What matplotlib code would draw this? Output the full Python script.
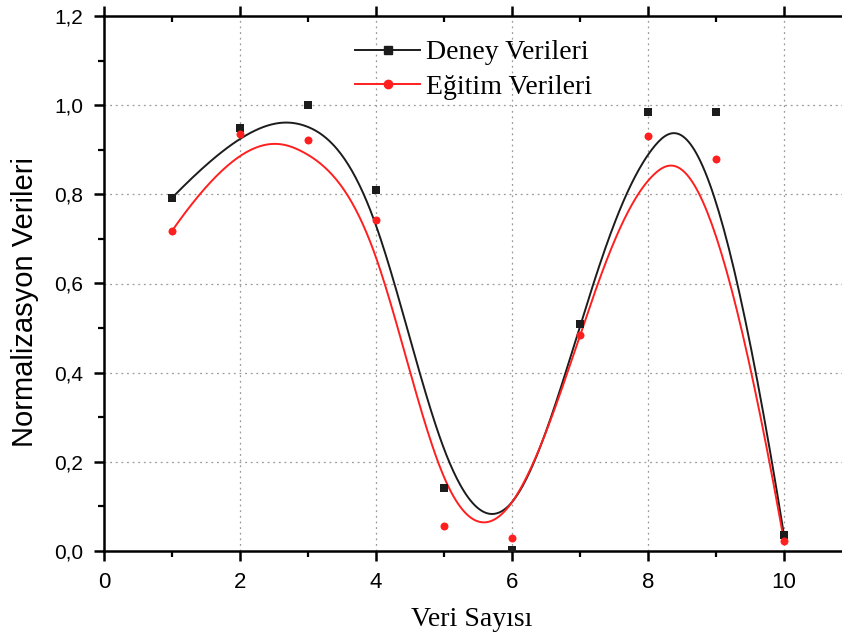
import numpy as np
import matplotlib
matplotlib.use("Agg")
import matplotlib.pyplot as plt
from matplotlib.lines import Line2D
from matplotlib.ticker import MultipleLocator, FuncFormatter

# Data
veri_sayisi = [1, 2, 3, 4, 5, 6, 7, 8, 9, 10]
deney_verileri = [0.792, 0.949, 1.000, 0.810, 0.141, 0.002, 0.509, 0.985, 0.985, 0.036]
egitim_verileri = [0.718, 0.936, 0.922, 0.743, 0.056, 0.029, 0.485, 0.931, 0.880, 0.022]

label_deney = "Deney Verileri"
label_egitim = "Eğitim Verileri"


def bspline_curve(xs, ys, degree=3, samples=400):
    """Clamped uniform B-spline using the points as control points."""
    P = np.column_stack([xs, ys]).astype(float)
    n = len(P)
    k = degree
    inner = np.arange(1, n - k)
    knots = np.concatenate([np.zeros(k + 1), inner, np.full(k + 1, n - k)])
    t = np.linspace(0, n - k, samples)
    t[-1] -= 1e-9
    # Cox-de Boor recursion
    N = np.zeros((samples, len(knots) - 1))
    for i in range(len(knots) - 1):
        N[:, i] = (t >= knots[i]) & (t < knots[i + 1])
    for d in range(1, k + 1):
        Nn = np.zeros((samples, len(knots) - 1 - d))
        for i in range(len(knots) - 1 - d):
            a = knots[i + d] - knots[i]
            b = knots[i + d + 1] - knots[i + 1]
            term = np.zeros(samples)
            if a > 0:
                term += (t - knots[i]) / a * N[:, i]
            if b > 0:
                term += (knots[i + d + 1] - t) / b * N[:, i + 1]
            Nn[:, i] = term
        N = Nn
    C = N @ P
    return C[:, 0], C[:, 1]


black = "#1c1c1c"
red = "#ff1f1f"
sans = ["Liberation Sans", "DejaVu Sans"]
serif = ["Liberation Serif", "DejaVu Serif"]

W, H = 842, 639
fig = plt.figure(figsize=(W / 100, H / 100), dpi=100)
ax = fig.add_axes([104 / W, (H - 551) / H, (W - 104) / W, 535 / H])

bx, by = bspline_curve(veri_sayisi, deney_verileri)
rx, ry = bspline_curve(veri_sayisi, egitim_verileri)

ax.plot(bx, by, color=black, lw=1.4, zorder=3)
ax.plot(rx, ry, color=red, lw=1.4, zorder=3)
ax.scatter(veri_sayisi, deney_verileri, marker="s", s=26, color=black, zorder=4, linewidths=0)
ax.scatter(veri_sayisi, egitim_verileri, marker="o", s=33, color=red, zorder=5, linewidths=0)

ax.set_xlim(0, (W - 104) / 68.0)
ax.set_ylim(0, 1.2)

ax.xaxis.set_major_locator(MultipleLocator(2))
ax.xaxis.set_minor_locator(MultipleLocator(1))
ax.yaxis.set_major_locator(MultipleLocator(0.2))
ax.yaxis.set_minor_locator(MultipleLocator(0.1))
ax.yaxis.set_major_formatter(FuncFormatter(lambda v, p: f"{v:.1f}".replace(".", ",")))
ax.xaxis.set_major_formatter(FuncFormatter(lambda v, p: f"{int(round(v))}"))

# Dotted grid at major ticks (excluding the axis limits)
for xv in [2, 4, 6, 8, 10]:
    ax.axvline(xv, color="#9a9a9a", lw=0.9, ls=(0, (1.5, 3)), zorder=1)
for yv in [0.2, 0.4, 0.6, 0.8, 1.0]:
    ax.axhline(yv, color="#9a9a9a", lw=0.9, ls=(0, (1.5, 3)), zorder=1)

ax.spines["right"].set_visible(False)
for side in ["left", "bottom", "top"]:
    ax.spines[side].set_linewidth(1.8)
    ax.spines[side].set_color("black")

ax.tick_params(axis="both", which="major", length=7, width=1.8, direction="out", pad=8)
ax.tick_params(axis="both", which="minor", length=4.5, width=1.6, direction="out")
ax.tick_params(axis="x", which="major", labelsize=16)
ax.tick_params(axis="y", which="major", labelsize=15)
ax.tick_params(axis="x", which="major", top=True, direction="inout")
ax.tick_params(axis="x", which="minor", top=True)
# top-axis ticks point inward
for tk in ax.xaxis.get_major_ticks() + ax.xaxis.get_minor_ticks():
    tk.tick2line.set_marker(matplotlib.markers.TICKDOWN)
ax.xaxis.set_tick_params(which="major", direction="out")
for lab in ax.get_xticklabels() + ax.get_yticklabels():
    lab.set_fontfamily(sans)

ax.set_ylabel("Normalizasyon Verileri", fontsize=21, fontfamily=sans)
ax.yaxis.label.set_va("center")
ax.yaxis.set_label_coords(-(104 - 25) / (W - 104), (551 - 302) / 535)
ax.set_xlabel("Veri Sayısı", fontsize=20, fontfamily=serif)
ax.xaxis.set_label_coords((472 - 104) / (W - 104), -(620 - 551) / 535)
ax.xaxis.label.set_va("center")

handles = [
    Line2D([], [], color=black, lw=1.4, marker="s", markersize=5.5),
    Line2D([], [], color=red, lw=1.4, marker="o", markersize=6),
]
leg = ax.legend(handles, [label_deney, label_egitim], loc="upper left",
                bbox_to_anchor=(355 / W, 1 - 40 / H), bbox_transform=fig.transFigure,
                frameon=False, handlelength=2.35, handletextpad=0.2,
                labelspacing=0.33, borderpad=0.0, borderaxespad=0.0,
                prop={"family": serif, "size": 20})

fig.savefig("out.png", dpi=100)
